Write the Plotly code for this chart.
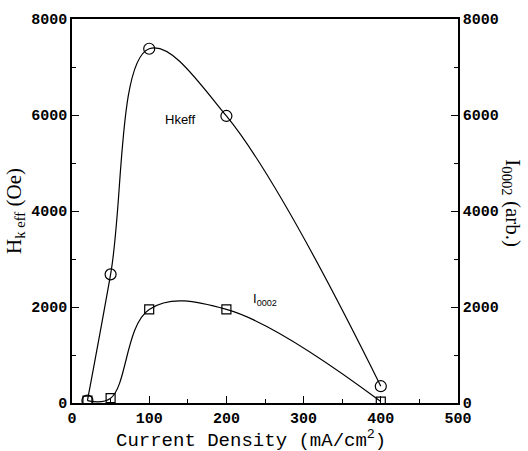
import plotly.graph_objects as go

# Current density (mA/cm^2)
current_density = [20, 50, 100, 200, 400]
# Effective anisotropy field Hk_eff (Oe)
hk_eff = [50, 2680, 7380, 5980, 350]
# (0002) peak intensity (arb.)
i0002 = [50, 100, 1950, 1950, 30]

x_ticks = [0, 100, 200, 300, 400, 500]
y_ticks = [0, 2000, 4000, 6000, 8000]

tick_font = dict(family="Liberation Mono, Courier New, monospace", size=15, color="black", weight="bold")

fig = go.Figure()
fig.add_trace(go.Scatter(
    x=current_density, y=hk_eff, mode="lines+markers",
    line=dict(color="black", width=1.2, shape="spline", smoothing=1.1),
    marker=dict(symbol="circle-open", size=11, color="black", line=dict(width=1.2)),
    showlegend=False,
))
fig.add_trace(go.Scatter(
    x=current_density, y=i0002, mode="lines+markers", yaxis="y2",
    line=dict(color="black", width=1.2, shape="spline", smoothing=1.1),
    marker=dict(symbol="square-open", size=9, color="black", line=dict(width=1.2)),
    showlegend=False,
))

axis_common = dict(
    showline=True, linecolor="black", linewidth=1.5,
    ticks="inside", ticklen=7, tickwidth=1, tickcolor="black",
    showgrid=False, zeroline=False, tickfont=tick_font,
)

fig.update_layout(
    width=528, height=451,
    margin=dict(l=72, r=70, t=14, b=48),
    paper_bgcolor="white", plot_bgcolor="white",
    xaxis=dict(range=[0, 500], tickvals=x_ticks, mirror=True,
               minor=dict(dtick=50, ticks="inside", ticklen=4, tickcolor="black"),
               **axis_common),
    yaxis=dict(range=[0, 8000], tickvals=y_ticks,
               minor=dict(dtick=1000, ticks="inside", ticklen=4, tickcolor="black"),
               **axis_common),
    yaxis2=dict(range=[0, 8000], tickvals=y_ticks, overlaying="y", side="right",
                minor=dict(dtick=1000, ticks="inside", ticklen=4, tickcolor="black"),
                **axis_common),
)

title_font = dict(family="Liberation Serif, Times New Roman, serif", size=21, color="black")

fig.add_annotation(
    text="Current Density (mA/cm<sup>2</sup>)", xref="paper", yref="paper",
    x=0.464, xanchor="center", y=0, yshift=-36, yanchor="middle", showarrow=False,
    font=dict(family="Liberation Mono, Courier New, monospace", size=19, color="black"),
)
fig.add_annotation(
    text="H<sub>k eff</sub> (Oe)", xref="paper", yref="paper",
    x=0, xshift=-57, xanchor="center", y=0.5, yanchor="middle",
    textangle=-90, showarrow=False, font=title_font,
)
fig.add_annotation(
    text="I<sub>0002</sub> (arb.)", xref="paper", yref="paper",
    x=1, xshift=54, xanchor="center", y=0.52, yanchor="middle",
    textangle=90, showarrow=False, font=title_font,
)

label_font = dict(family="Liberation Sans, Arial, sans-serif", size=13, color="black")
fig.add_annotation(text="Hkeff", x=140, y=5900, showarrow=False, font=label_font)
fig.add_annotation(text="I<sub>0002</sub>", x=250, y=2150, yref="y2", showarrow=False, font=label_font)

fig.write_html("out.html")
